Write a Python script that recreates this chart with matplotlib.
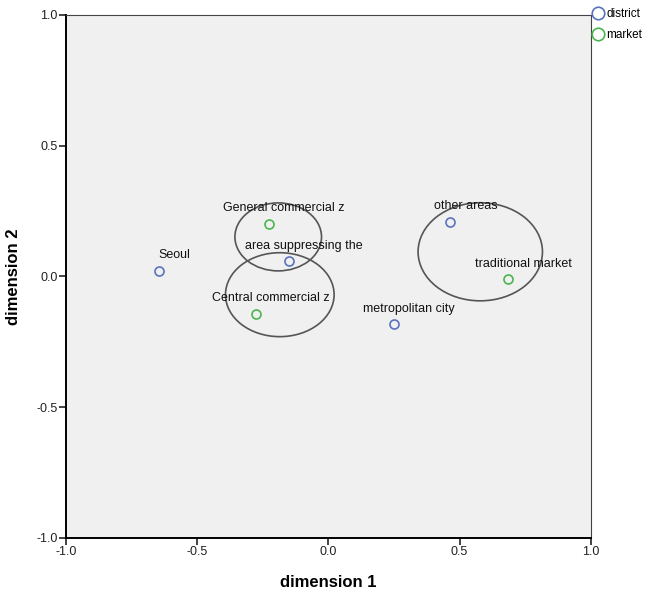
import matplotlib.pyplot as plt
from matplotlib.patches import Ellipse
from matplotlib.lines import Line2D

plt.rcParams['font.family'] = ['Liberation Sans', 'DejaVu Sans']

# puntos de la categoria "district"
district_names = ["Seoul", "area suppressing the", "metropolitan city", "other areas"]
district_x = [-0.646, -0.150, 0.250, 0.464]
district_y = [0.022, 0.057, -0.183, 0.208]

# puntos de la categoria "market"
market_names = ["General commercial z", "Central commercial z", "traditional market"]
market_x = [-0.227, -0.276, 0.684]
market_y = [0.200, -0.143, -0.011]

# elipses: centro x, centro y, ancho, alto
ell_cx = [-0.191, -0.185, 0.579]
ell_cy = [0.151, -0.070, 0.094]
ell_w = [0.330, 0.414, 0.474]
ell_h = [0.260, 0.321, 0.375]

ticks = [-1.0, -0.5, 0.0, 0.5, 1.0]
tick_labels = ["-1.0", "-0.5", "0.0", "0.5", "1.0"]

col_district = "#5a72bd"
col_market = "#4cb550"

fig = plt.figure(figsize=(6.66, 5.95), dpi=100)
ax = fig.add_axes([0.099, 0.096, 0.788, 0.879])
ax.set_facecolor("#f0f0f0")

for i in range(len(ell_cx)):
    e = Ellipse((ell_cx[i], ell_cy[i]), ell_w[i], ell_h[i], fill=False,
                edgecolor="#555555", linewidth=1.2, zorder=2)
    ax.add_patch(e)

ax.plot(district_x, district_y, "o", markerfacecolor="none", markeredgecolor=col_district,
        markersize=6.5, markeredgewidth=1.2, zorder=3, linestyle="none")
ax.plot(market_x, market_y, "o", markerfacecolor="none", markeredgecolor=col_market,
        markersize=6.5, markeredgewidth=1.2, zorder=3, linestyle="none")

for nombre, x, y in zip(district_names + market_names, district_x + market_x, district_y + market_y):
    ax.annotate(nombre, (x, y), xytext=(11, 7), textcoords="offset points",
                ha="center", va="bottom", fontsize=9, color="#111111", zorder=4)

ax.set_xlim(-1.0, 1.0)
ax.set_ylim(-1.0, 1.0)
ax.set_xticks(ticks)
ax.set_xticklabels(tick_labels)
ax.set_yticks(ticks)
ax.set_yticklabels(tick_labels)
ax.tick_params(direction="out", length=5, width=1.2, labelsize=9, colors="#222222", pad=1)

ax.spines["left"].set_linewidth(1.4)
ax.spines["bottom"].set_linewidth(1.4)
ax.spines["top"].set_linewidth(0.8)
ax.spines["right"].set_linewidth(0.8)
ax.spines["top"].set_color("#444444")
ax.spines["right"].set_color("#444444")

ax.set_xlabel("dimension 1", fontsize=12, fontweight="bold", labelpad=12)
ax.set_ylabel("dimension 2", fontsize=12, fontweight="bold", labelpad=11)

handles = [
    Line2D([], [], marker="o", linestyle="none", markerfacecolor="none",
           markeredgecolor=col_district, markersize=9, markeredgewidth=1.2),
    Line2D([], [], marker="o", linestyle="none", markerfacecolor="none",
           markeredgecolor=col_market, markersize=9, markeredgewidth=1.2),
]
fig.legend(handles, ["district", "market"], loc="upper left", bbox_to_anchor=(0.887, 0.99),
           frameon=False, fontsize=8.5, handlelength=0.8, handletextpad=0.3,
           labelspacing=0.75, borderaxespad=0, borderpad=0.2)

fig.savefig("out.png", dpi=100)
